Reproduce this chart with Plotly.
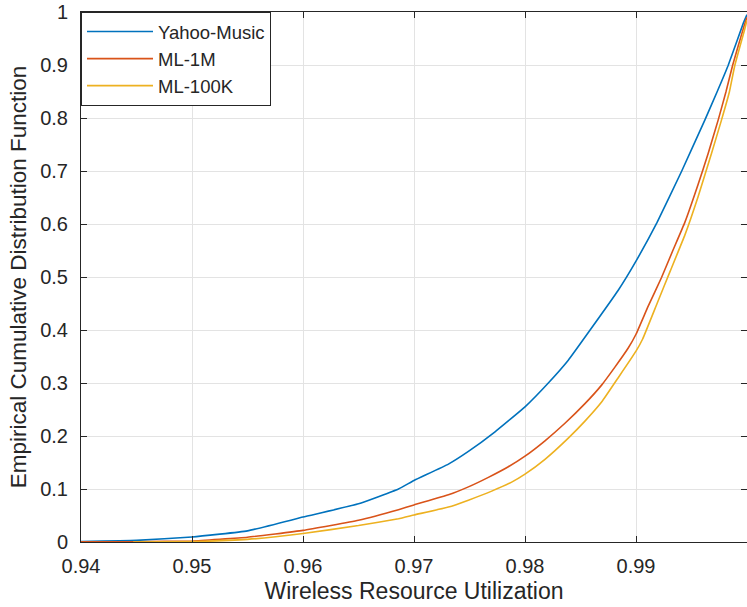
import plotly.graph_objects as go

# Yahoo-Music ECDF (x = utilization, y = cumulative probability)
yahoo_x = [0.94, 0.945, 0.95, 0.955, 0.96, 0.965, 0.9686, 0.97, 0.9731, 0.9749, 0.9773, 0.98,
           0.9821, 0.9839, 0.9858, 0.9884, 0.99, 0.9919, 0.9941, 0.9962, 0.9973,
           0.9983, 0.99967, 1.0]
yahoo_y = [0.001, 0.003, 0.0095, 0.021, 0.047, 0.072, 0.100, 0.116, 0.147, 0.171, 0.208, 0.255,
           0.300, 0.343, 0.398, 0.475, 0.530, 0.603, 0.699, 0.796, 0.849,
           0.899, 0.979, 0.995]

# ML-1M ECDF
ml1m_x = [0.94, 0.945, 0.95, 0.955, 0.96, 0.965, 0.9686, 0.97, 0.9731, 0.9749, 0.9767, 0.9785,
          0.98, 0.9818, 0.9836, 0.9854, 0.9869, 0.9881, 0.9893, 0.99, 0.9911, 0.9923, 0.9933,
          0.9944, 0.9956, 0.9965, 0.9974, 0.9981, 0.9987, 0.9997, 1.0]
ml1m_y = [0.0003, 0.0005, 0.002, 0.009, 0.022, 0.041, 0.061, 0.070, 0.089, 0.104, 0.122, 0.142,
          0.162, 0.191, 0.224, 0.261, 0.296, 0.330, 0.366, 0.392, 0.445, 0.499, 0.549,
          0.603, 0.675, 0.733, 0.796, 0.849, 0.899, 0.971, 0.99]

# ML-100K ECDF
ml100k_x = [0.9447, 0.95, 0.955, 0.96, 0.965, 0.9686, 0.97, 0.9731, 0.9749, 0.977, 0.9788,
            0.98, 0.9818, 0.9839, 0.9854, 0.9869, 0.9884, 0.99, 0.9906, 0.9919, 0.9931,
            0.9944, 0.9956, 0.9968, 0.9977, 0.9984, 0.9989, 0.9998, 1.0]
ml100k_y = [0.0, 0.001, 0.005, 0.016, 0.031, 0.044, 0.051, 0.066, 0.079, 0.096, 0.113,
            0.128, 0.156, 0.196, 0.228, 0.264, 0.310, 0.360, 0.383, 0.450, 0.512,
            0.579, 0.652, 0.733, 0.796, 0.848, 0.899, 0.968, 0.985]

x_ticks = [0.94, 0.95, 0.96, 0.97, 0.98, 0.99, 1.0]
x_labels = ["0.94", "0.95", "0.96", "0.97", "0.98", "0.99", "1"]
y_ticks = [0, 0.1, 0.2, 0.3, 0.4, 0.5, 0.6, 0.7, 0.8, 0.9, 1.0]
y_labels = ["0", "0.1", "0.2", "0.3", "0.4", "0.5", "0.6", "0.7", "0.8", "0.9", "1"]

series = [
    ("Yahoo-Music", yahoo_x, yahoo_y, "#0072BD"),
    ("ML-1M", ml1m_x, ml1m_y, "#D95319"),
    ("ML-100K", ml100k_x, ml100k_y, "#EDB120"),
]

fig = go.Figure()
for name, xs, ys, col in series:
    fig.add_trace(go.Scatter(x=xs, y=ys, mode="lines", name=name,
                             line=dict(color=col, width=1.6, shape="spline", smoothing=0.35)))

axis_col = "#262626"
font_fam = "Liberation Sans, Arial, sans-serif"

fig.update_layout(
    width=747, height=607,
    margin=dict(l=81, r=0, t=12, b=65),
    paper_bgcolor="white", plot_bgcolor="white",
    font=dict(family=font_fam, size=20, color=axis_col),
    showlegend=True,
    legend=dict(x=0, y=1, xanchor="left", yanchor="top",
                bgcolor="white", bordercolor=axis_col, borderwidth=1,
                font=dict(size=18.5, color=axis_col), itemwidth=66,
                tracegroupgap=0),
)
fig.update_xaxes(
    range=[0.94, 1.0], tickvals=x_ticks, ticktext=x_labels,
    showgrid=True, gridcolor="#E3E3E3", gridwidth=1,
    showline=True, linecolor=axis_col, linewidth=1, mirror="ticks",
    ticks="inside", ticklen=6, tickcolor=axis_col, zeroline=False,
    ticklabelstandoff=6,
    title=dict(text="Wireless Resource Utilization", font=dict(size=23), standoff=6),
)
fig.update_yaxes(
    range=[0, 1.0], tickvals=y_ticks, ticktext=y_labels,
    showgrid=True, gridcolor="#E3E3E3", gridwidth=1,
    showline=True, linecolor=axis_col, linewidth=1, mirror="ticks",
    ticks="inside", ticklen=6, tickcolor=axis_col, zeroline=False,
    ticklabelstandoff=8,
    title=dict(text="Empirical Cumulative Distribution Function", font=dict(size=22.5), standoff=7),
)

fig.write_html("out.html")
